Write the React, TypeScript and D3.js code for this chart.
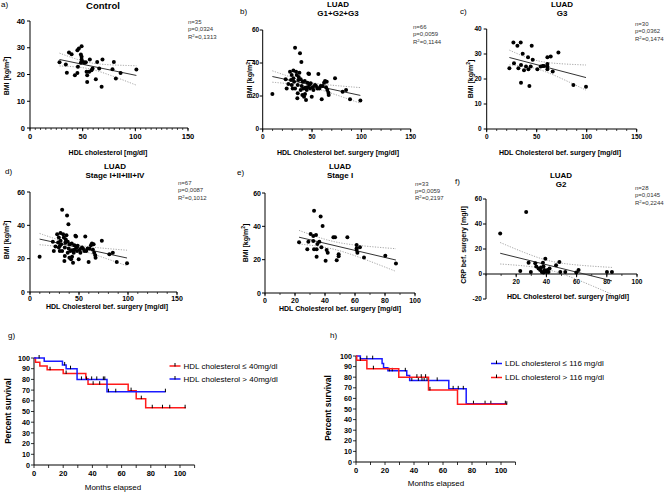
import React from "react";
import * as d3 from "d3";

type P = [number, number];

// ---------- scatter data (HDL, BMI / CRP) ----------
const controlData: P[] = [
  [28, 24.6], [34, 23.7], [35, 20.7], [37, 28.2], [39.5, 27.6], [42.6, 19.7], [45, 20.6],
  [45.5, 22.9], [45, 29.1], [46.4, 29.7], [49, 30.6], [48.3, 27.5], [49, 26.6], [49, 25.6],
  [48.3, 24.4], [50.5, 24.7], [52, 24.4], [53, 24.6], [53.7, 21], [54.3, 19.7], [54.3, 17.2],
  [56.8, 25.6], [56.2, 21], [58.4, 21.6], [59.4, 22.2], [62.5, 18.2], [63.8, 24.7], [65.7, 22.2],
  [68, 15.4], [68.8, 25.6], [78.3, 22], [79.6, 24.7], [81.5, 18.5], [86, 20.6], [101, 21.9],
];

const luadGradeAll: P[] = [
  [9.8, 21.2], [23.3, 30.1], [24.3, 24.6], [27.7, 34.7], [28.7, 29.7], [29.4, 26.7], [30.4, 24.6],
  [31.1, 35.4], [31.1, 30.7], [31.8, 28.7], [32.8, 49.3], [32.8, 24.6], [33.8, 34.7], [34.5, 32.7],
  [35.1, 18.6], [35.5, 26.7], [36.1, 29.7], [35.5, 21.6], [37.2, 34.1], [37.8, 45.9], [38.5, 30.1],
  [39.2, 40.6], [39.5, 26.1], [40.2, 20.6], [40.5, 28.7], [41.2, 24.6], [41.9, 19.6], [42.6, 29.1],
  [43.2, 25], [43.9, 17.6], [44.6, 23.6], [45.3, 28.1], [46.3, 33.7], [47, 33.3], [47.3, 26.7],
  [48, 24.6], [48.6, 27.7], [49.7, 19.6], [50.7, 25.3], [51.4, 23.6], [53, 26.7], [54, 26.1],
  [55.4, 24.6], [56.4, 33.3], [57.4, 24.6], [58.8, 26.1], [59.8, 18], [60.8, 26.1], [62.2, 28.1],
  [63.2, 29.1], [64.2, 25.3], [64.9, 28.7], [65.5, 23.6], [66.6, 22], [66.9, 20.6], [73.3, 30.7],
  [81, 22.6], [84.5, 23.6], [88.5, 18], [99, 17.2], [29.4, 32.7], [26, 27.3], [38.5, 23.6],
  [42.9, 21.2], [36.5, 31.5], [45.3, 25.3],
];

const luadG3: P[] = [
  [22.7, 24.3], [26.7, 34.6], [27.3, 26.3], [30.7, 33.3], [31.7, 24.3], [34, 34.6], [34.3, 25.6],
  [34.3, 18.5], [36, 30.1], [37.3, 23.5], [39.3, 25], [41.3, 28.7], [41.7, 23.9], [42.7, 17.2],
  [44, 25], [45, 33.3], [46, 27.7], [50.7, 23.9], [54, 25], [56, 25.2], [57.3, 25.2], [60.7, 26],
  [60.7, 25], [60.7, 23.9], [60.7, 28.7], [64, 29], [66, 23], [71.7, 30.6], [86.7, 17.6], [99.3, 16.9],
];

const luadStageAll: P[] = [...luadGradeAll, [30.5, 27.8]];

const luadStageI: P[] = [
  [22.7, 30.4], [28.2, 26.2], [28.9, 30.8], [30.4, 35.4], [32.2, 34.2], [32.2, 31.2], [32.7, 49.3],
  [34, 34.8], [34.4, 26.2], [34.4, 21.7], [34.9, 29.4], [36.2, 30.8], [37.1, 45.9], [37.6, 27.4],
  [38.4, 40.2], [40.4, 19.3], [41.1, 25.8], [41.8, 24.1], [45.6, 33.4], [46.7, 33.4], [47.8, 19.7],
  [49.1, 23.3], [49.1, 22.1], [54.9, 33.4], [61.1, 28.8], [61.1, 25.8], [61.6, 24.1], [63.3, 27.4],
  [66, 21.3], [80.2, 22.3], [87.3, 17.7], [61.1, 26.8], [32.7, 26.2],
];

const luadG2CRP: P[] = [
  [9.4, 32.5], [26.6, 49.7], [22.7, 2.5], [28.2, 9.1], [29.7, 1.7], [32.6, 8.6], [33.3, 6],
  [34.8, 4.4], [36.4, 5.2], [37, 1.7], [37.7, 9.1], [38.1, 6], [38.6, 3.3], [39.3, 12.3],
  [39.9, 1.7], [40.8, 3.3], [41.4, 1.7], [42.1, 4.4], [46.4, 7], [48.6, 9.6], [49.2, 1.7],
  [52.5, 1.7], [59.8, 1.2], [61.3, 3.3], [80.1, 1.7], [83.4, 1.7], [38.1, 1.2], [35.9, 3.3],
];

const statsA = ["n=35", "p=0,0324", "0,1313"];
const statsB = ["n=66", "p=0,0059", "0,1144"];
const statsC = ["n=30", "p=0,0362", "0,1474"];
const statsD = ["n=67", "p=0,0087", "0,1012"];
const statsE = ["n=33", "p=0,0059", "0,2197"];
const statsF = ["n=28", "p=0,0145", "0,2244"];

const ticks150 = [0, 50, 100, 150];
const ticks100 = [0, 20, 40, 60, 80, 100];
const ticksF = [20, 40, 60, 80, 100];
const ticks40 = [0, 10, 20, 30, 40];
const ticks60 = [0, 20, 40, 60];
const ticksCRP = [-20, 0, 20, 40, 60];

// ---------- Kaplan-Meier data ----------
const gLowSteps: P[] = [[0, 100], [1, 96], [4, 92.5], [9, 89], [20, 85.5], [35.5, 80.5], [37, 75.5], [64.5, 69.5], [70, 62], [76.5, 53.5]];
const gLowEnd = 104;
const gLowCensor = [11, 22, 40.5, 45, 66.5, 73.5, 81, 88, 93, 103.5];
const gHighSteps: P[] = [[0, 100], [7, 97], [19.5, 93.5], [22, 90], [29.5, 80], [50, 68.5]];
const gHighEnd = 90;
const gHighCensor = [3.5, 21, 25, 32.5, 36, 39.5, 43, 47.5, 48.5, 51, 56, 90];

const hLowSteps: P[] = [[0, 100], [3, 97.5], [18, 93], [19, 89], [22, 86], [35, 81.5], [37, 77], [64, 69], [76, 55]];
const hLowEnd = 104;
const hLowCensor = [7.5, 11.5, 23, 25, 34, 38.5, 43, 45.5, 47, 49, 56, 67, 70.5, 74, 81, 89, 93, 103];
const hHighSteps: P[] = [[0, 100], [0.5, 96], [7.5, 88], [29.5, 80], [50, 68], [70, 54.5]];
const hHighEnd = 104;
const hHighCensor = [3, 12, 42, 45, 48, 51, 104];

const kmYTicks = d3.range(0, 101, 10);
const kmXTicks = [0, 20, 40, 60, 80, 100];

const FONT = "'Liberation Sans', Arial, Helvetica, sans-serif";
const RED = "#ff1a1a";
const BLUE = "#1a1aff";

function fit(data: P[]) {
  const n = data.length;
  const mx = d3.mean(data, (d) => d[0]) as number;
  const my = d3.mean(data, (d) => d[1]) as number;
  let sxx = 0, sxy = 0;
  data.forEach(([x, y]) => { sxx += (x - mx) ** 2; sxy += (x - mx) * (y - my); });
  const b = sxy / sxx;
  const a = my - b * mx;
  const sse = d3.sum(data, ([x, y]) => (y - a - b * x) ** 2);
  const s = Math.sqrt(sse / (n - 2));
  const df = n - 2;
  const t = 1.96 + 2.37 / df + 2.8 / (df * df);
  return { a, b, s, mx, sxx, n, t };
}

interface ScatterCfg {
  data: P[];
  xDomain: [number, number]; xRange: [number, number];
  yDomain: [number, number]; yRange: [number, number];
  xTicks: number[]; xMinor: number; yTicks: number[];
  tickFont: number; tickOff: number; yTickGap: number;
  xAxisAt?: number;
  xLabel: string; xLabelPos: [number, number];
  yLabel: string; yLabelPos: [number, number]; ySup?: boolean;
  title: string[]; titlePos: [number, number]; titleSize: number; titleGap: number;
  tag: string; tagPos: [number, number];
  stats: string[]; statsPos: [number, number];
}

function Scatter({ c }: { c: ScatterCfg }) {
  const x = d3.scaleLinear().domain(c.xDomain).range(c.xRange);
  const y = d3.scaleLinear().domain(c.yDomain).range(c.yRange);
  const f = fit(c.data);
  const ext = d3.extent(c.data, (d) => d[0]) as [number, number];
  const grid = d3.range(0, 61).map((i) => ext[0] + ((ext[1] - ext[0]) * i) / 60);
  const ln = d3.line<P>();
  const band = (sg: number) =>
    ln(grid.map((gx) => [x(gx), y(f.a + f.b * gx + sg * f.t * f.s * Math.sqrt(1 / f.n + (gx - f.mx) ** 2 / f.sxx))] as P)) || "";
  const axY = c.xAxisAt !== undefined ? y(c.xAxisAt) : c.yRange[0];
  const axX = c.xRange[0];
  const minorX = d3.range(c.xDomain[0], c.xDomain[1] + 0.001, c.xMinor);
  const y0 = Math.max(...c.yRange);
  const y1 = Math.min(...c.yRange);
  return (
    <g fontFamily={FONT}>
      {/* axes */}
      <line x1={axX} x2={c.xRange[1]} y1={axY} y2={axY} stroke="#000" strokeWidth={1} />
      <line x1={axX} x2={axX} y1={y0} y2={y1} stroke="#000" strokeWidth={1} />
      {minorX.map((v) => (
        <line key={"mx" + v} x1={x(v)} x2={x(v)} y1={axY} y2={axY + 2} stroke="#000" strokeWidth={0.7} />
      ))}
      {c.xTicks.map((v) => (
        <g key={"xt" + v}>
          <line x1={x(v)} x2={x(v)} y1={axY} y2={axY + 3.2} stroke="#000" strokeWidth={1} />
          <text x={x(v)} y={axY + c.tickOff} textAnchor="middle" fontSize={c.tickFont} fontWeight="bold">{v}</text>
        </g>
      ))}
      {c.yTicks.map((v) => (
        <g key={"yt" + v}>
          <line x1={axX - 3} x2={axX} y1={y(v)} y2={y(v)} stroke="#000" strokeWidth={1} />
          <text x={axX - c.yTickGap} y={y(v) + c.tickFont * 0.36} textAnchor="end" fontSize={c.tickFont} fontWeight="bold">{v}</text>
        </g>
      ))}
      {/* CI bands and regression */}
      <path d={band(1)} fill="none" stroke="#9a9a9a" strokeWidth={0.9} strokeDasharray="1.2,1.4" />
      <path d={band(-1)} fill="none" stroke="#9a9a9a" strokeWidth={0.9} strokeDasharray="1.2,1.4" />
      <line x1={x(ext[0])} x2={x(ext[1])} y1={y(f.a + f.b * ext[0])} y2={y(f.a + f.b * ext[1])} stroke="#333" strokeWidth={1} />
      {/* points */}
      {c.data.map((d, i) => (
        <circle key={i} cx={x(d[0])} cy={y(d[1])} r={2} fill="#000" />
      ))}
      {/* labels */}
      <text x={c.xLabelPos[0]} y={c.xLabelPos[1]} textAnchor="middle" fontSize={7} fontWeight="bold">{c.xLabel}</text>
      <text transform={`translate(${c.yLabelPos[0]},${c.yLabelPos[1]}) rotate(-90)`} textAnchor="middle" fontSize={7} fontWeight="bold">
        {c.yLabel}
        {c.ySup ? (
          <>
            <tspan fontSize={5} dy={-2.5}>2</tspan>
            <tspan dy={2.5}>]</tspan>
          </>
        ) : null}
      </text>
      {c.title.map((t, i) => (
        <text key={t} x={c.titlePos[0]} y={c.titlePos[1] + i * c.titleGap} textAnchor="middle" fontSize={c.titleSize} fontWeight="bold">{t}</text>
      ))}
      <text x={c.tagPos[0]} y={c.tagPos[1]} fontSize={8}>{c.tag}</text>
      <g fontSize={6} fill="#333">
        <text x={c.statsPos[0]} y={c.statsPos[1]}>{c.stats[0]}</text>
        <text x={c.statsPos[0]} y={c.statsPos[1] + 7.4}>{c.stats[1]}</text>
        <text x={c.statsPos[0]} y={c.statsPos[1] + 14.8}>
          R<tspan fontSize={4.2} dy={-2.2}>2</tspan><tspan dy={2.2}>={c.stats[2]}</tspan>
        </text>
      </g>
    </g>
  );
}

interface KMCurve { steps: P[]; end: number; censor: number[]; color: string; label: string }
interface KMCfg {
  xRange: [number, number]; yRange: [number, number];
  curves: KMCurve[];
  legendX: number; legendY: number[];
  xLabelPos: [number, number]; yLabelPos: [number, number];
  tag: string; tagPos: [number, number];
}

function survAt(steps: P[], t: number) {
  let s = steps[0][1];
  for (const st of steps) if (st[0] <= t) s = st[1];
  return s;
}

function KM({ c }: { c: KMCfg }) {
  const x = d3.scaleLinear().domain([0, 100]).range(c.xRange);
  const y = d3.scaleLinear().domain([0, 100]).range(c.yRange);
  const line = d3.line<P>().x((d) => x(d[0])).y((d) => y(d[1])).curve(d3.curveStepAfter);
  const minorX = d3.range(0, 111, 10);
  const axY = y(0);
  const axX = x(0);
  return (
    <g fontFamily={FONT}>
      <line x1={axX} x2={x(110)} y1={axY} y2={axY} stroke="#000" strokeWidth={1} />
      <line x1={axX} x2={axX} y1={axY} y2={y(100)} stroke="#000" strokeWidth={1} />
      {minorX.map((v) => (
        <line key={"m" + v} x1={x(v)} x2={x(v)} y1={axY} y2={axY + 3} stroke="#000" strokeWidth={0.8} />
      ))}
      {kmXTicks.map((v) => (
        <text key={"xt" + v} x={x(v)} y={axY + 10.5} textAnchor="middle" fontSize={7.5} fontWeight="bold">{v}</text>
      ))}
      {kmYTicks.map((v) => (
        <g key={"yt" + v}>
          <line x1={axX - 3} x2={axX} y1={y(v)} y2={y(v)} stroke="#000" strokeWidth={0.8} />
          <text x={axX - 4} y={y(v) + 2.6} textAnchor="end" fontSize={7.2} fontWeight="bold">{v}</text>
        </g>
      ))}
      {c.curves.map((cv, i) => {
        const pts: P[] = [...cv.steps, [cv.end, cv.steps[cv.steps.length - 1][1]]];
        return (
          <g key={i}>
            <path d={line(pts) || ""} fill="none" stroke={cv.color} strokeWidth={1.5} />
            {cv.censor.map((t, j) => (
              <line key={j} x1={x(t)} x2={x(t)} y1={y(survAt(cv.steps, t)) - 3} y2={y(survAt(cv.steps, t)) + 0.5} stroke="#000" strokeWidth={1} />
            ))}
            <line x1={c.legendX} x2={c.legendX + 11} y1={c.legendY[i]} y2={c.legendY[i]} stroke={cv.color} strokeWidth={1.5} />
            <line x1={c.legendX + 5.5} x2={c.legendX + 5.5} y1={c.legendY[i] - 3} y2={c.legendY[i] + 0.5} stroke="#000" strokeWidth={1} />
            <text x={c.legendX + 14} y={c.legendY[i] + 2.8} fontSize={8}>{cv.label}</text>
          </g>
        );
      })}
      <text x={c.xLabelPos[0]} y={c.xLabelPos[1]} textAnchor="middle" fontSize={8}>Months elapsed</text>
      <text transform={`translate(${c.yLabelPos[0]},${c.yLabelPos[1]}) rotate(-90)`} textAnchor="middle" fontSize={8.5} fontWeight="bold">Percent survival</text>
      <text x={c.tagPos[0]} y={c.tagPos[1]} fontSize={8}>{c.tag}</text>
    </g>
  );
}

const HDLB = "HDL Cholesterol bef. surgery [mg/dl]";

const panels: ScatterCfg[] = [
  {
    data: controlData, xDomain: [0, 150], xRange: [30, 188], yDomain: [0, 40], yRange: [128, 21],
    xTicks: ticks150, xMinor: 5, yTicks: ticks40, tickFont: 7.5, tickOff: 11, yTickGap: 5,
    xLabel: "HDL cholesterol [mg/dl]", xLabelPos: [108, 154.5], yLabel: "BMI [kg/m", yLabelPos: [9.2, 76], ySup: true,
    title: ["Control"], titlePos: [103, 9], titleSize: 9.5, titleGap: 0,
    tag: "a)", tagPos: [1, 7], stats: statsA, statsPos: [188, 24],
  },
  {
    data: luadGradeAll, xDomain: [0, 150], xRange: [262.7, 410.7], yDomain: [0, 60], yRange: [129, 30],
    xTicks: ticks150, xMinor: 10, yTicks: ticks60, tickFont: 6.5, tickOff: 10, yTickGap: 3.5,
    xLabel: HDLB, xLabelPos: [338, 154.5], yLabel: "BMI [kg/m", yLabelPos: [252.3, 79], ySup: true,
    title: ["LUAD", "G1+G2+G3"], titlePos: [338, 7], titleSize: 8, titleGap: 9,
    tag: "b)", tagPos: [240, 14], stats: statsB, statsPos: [413, 29],
  },
  {
    data: luadG3, xDomain: [0, 150], xRange: [486.7, 636.7], yDomain: [0, 40], yRange: [129, 29],
    xTicks: ticks150, xMinor: 10, yTicks: ticks40, tickFont: 6.5, tickOff: 10, yTickGap: 5,
    xLabel: HDLB, xLabelPos: [560, 154.5], yLabel: "BMI [kg/m", yLabelPos: [472.8, 79], ySup: true,
    title: ["LUAD", "G3"], titlePos: [562, 7], titleSize: 8, titleGap: 9,
    tag: "c)", tagPos: [460, 14], stats: statsC, statsPos: [635, 26],
  },
  {
    data: luadStageAll, xDomain: [0, 150], xRange: [30, 177], yDomain: [0, 60], yRange: [292, 192],
    xTicks: ticks150, xMinor: 10, yTicks: ticks60, tickFont: 7, tickOff: 9, yTickGap: 5,
    xLabel: HDLB, xLabelPos: [107, 308.5], yLabel: "BMI [kg/m", yLabelPos: [9.2, 240], ySup: true,
    title: ["LUAD", "Stage I+II+III+IV"], titlePos: [115, 169], titleSize: 8, titleGap: 8.7,
    tag: "d)", tagPos: [5, 174], stats: statsD, statsPos: [178, 185],
  },
  {
    data: luadStageI, xDomain: [0, 100], xRange: [265, 415], yDomain: [0, 60], yRange: [293, 193],
    xTicks: ticks100, xMinor: 10, yTicks: ticks60, tickFont: 7, tickOff: 9.5, yTickGap: 4,
    xLabel: HDLB, xLabelPos: [340, 311], yLabel: "BMI [kg/m", yLabelPos: [247.5, 243], ySup: true,
    title: ["LUAD", "Stage I"], titlePos: [340, 169], titleSize: 8, titleGap: 8.7,
    tag: "e)", tagPos: [237, 175], stats: statsE, statsPos: [415, 185.5],
  },
  {
    data: luadG2CRP, xDomain: [0, 100], xRange: [486, 637], yDomain: [-20, 60], yRange: [299, 199],
    xTicks: ticksF, xMinor: 10, yTicks: ticksCRP, xAxisAt: 0, tickFont: 6.5, tickOff: 10, yTickGap: 4,
    xLabel: HDLB, xLabelPos: [568, 299], yLabel: "CRP bef. surgery [mg/l]", yLabelPos: [465.5, 245],
    title: ["LUAD", "G2"], titlePos: [561, 177.5], titleSize: 8, titleGap: 9,
    tag: "f)", tagPos: [455, 184], stats: statsF, statsPos: [635, 190],
  },
];

const kmPanels: KMCfg[] = [
  {
    xRange: [34, 180], yRange: [465, 358],
    curves: [
      { steps: gLowSteps, end: gLowEnd, censor: gLowCensor, color: RED, label: "HDL cholesterol \u2264 40mg/dl" },
      { steps: gHighSteps, end: gHighEnd, censor: gHighCensor, color: BLUE, label: "HDL cholesterol > 40mg/dl" },
    ],
    legendX: 169.5, legendY: [366, 379],
    xLabelPos: [113, 489.5], yLabelPos: [11, 411], tag: "g)", tagPos: [8, 338],
  },
  {
    xRange: [356, 501], yRange: [462, 356],
    curves: [
      { steps: hLowSteps, end: hLowEnd, censor: hLowCensor, color: BLUE, label: "LDL cholesterol \u2264 116 mg/dl" },
      { steps: hHighSteps, end: hHighEnd, censor: hHighCensor, color: RED, label: "LDL cholesterol > 116 mg/dl" },
    ],
    legendX: 491, legendY: [363.5, 377.5],
    xLabelPos: [436, 486], yLabelPos: [331, 408], tag: "h)", tagPos: [330, 338],
  },
];

export default function App() {
  return (
    <svg width={669} height={492} style={{ position: "absolute", left: 0, top: 0, background: "#fff" }}>
      <rect width={669} height={492} fill="#fff" />
      {panels.map((p, i) => <Scatter key={i} c={p} />)}
      {kmPanels.map((p, i) => <KM key={i} c={p} />)}
    </svg>
  );
}
